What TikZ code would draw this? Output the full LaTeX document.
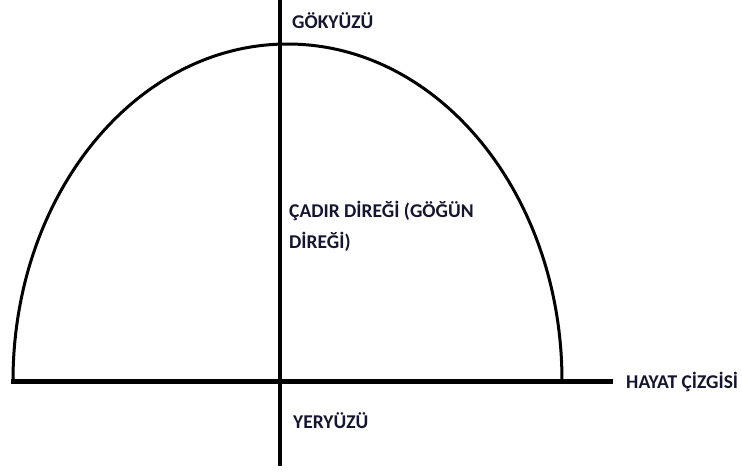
\documentclass[tikz,border=0pt]{standalone}
\usepackage{fontspec}
\setmainfont{Carlito}
\usepackage{tikz}
\usetikzlibrary{positioning}
\definecolor{inktext}{HTML}{151530}
\tikzset{
  lbl/.style={font=\fontsize{19.5}{31}\selectfont\bfseries, text=inktext, inner sep=0pt, anchor=base west, align=left},
  dome/.style={line width=3pt, draw=black},
}

\begin{document}
\begin{tikzpicture}[x=1pt,y=-1pt]
    \useasboundingbox (0,0) rectangle (742,472);
    % life line and tent pole
    \draw[line width=5pt] (11,381) -- (613,381);
    \draw[line width=3.5pt] (280,0) -- (280,466);
    % sky dome
    \draw[dome] (13,381) arc[start angle=180, end angle=360, x radius=274.5, y radius=337];

    \node[lbl] (sky) at (292,28) {GÖKYÜZÜ};
    \node[lbl] (pole) at (289,248) {ÇADIR DİREĞİ (GÖĞÜN\\DİREĞİ)};
    \node[lbl] (life) at (626,388) {HAYAT ÇİZGİSİ};
    \node[lbl] (earth) at (293,428) {YERYÜZÜ};
  \end{tikzpicture}
\end{document}
